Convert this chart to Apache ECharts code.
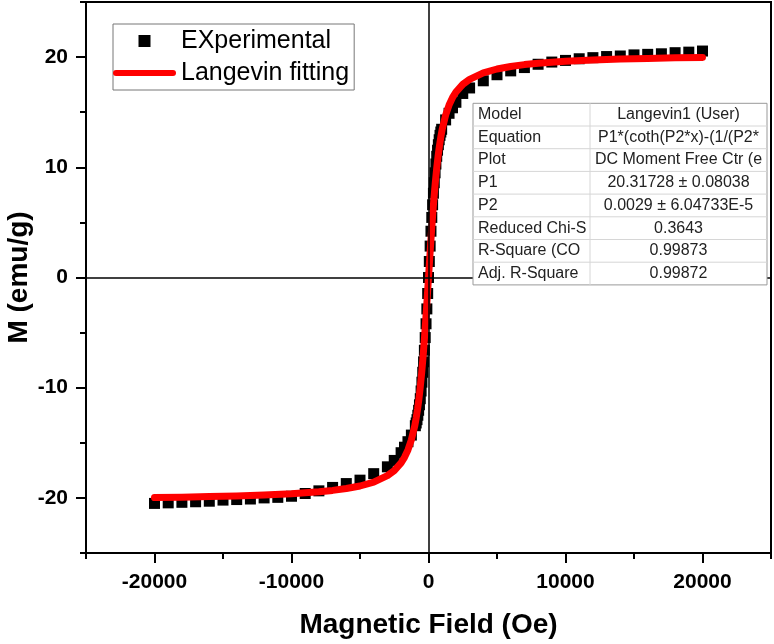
<!DOCTYPE html>
<html>
<head>
<meta charset="utf-8">
<script src="https://cdn.jsdelivr.net/npm/echarts@6/dist/echarts.min.js"></script>
<style>
    html, body { margin: 0; padding: 0; background: #fff; }
    #mh_chart { width: 774px; height: 644px; }
</style>
</head>
<body>
<div id="mh_chart"></div>
<script>
// measured points (Oe, emu/g)
const fieldExp = [
    -20000, -19000, -18000, -17000, -16000, -15000, -14000, -13000, -12000, -11000,
    -10000, -9000, -8000, -7000, -6000, -5000, -4000, -3000, -2500, -2000,
    -1750, -1500, -1250, -960, -900, -840, -780, -720, -660, -600,
    -540, -480, -420, -360, -300, -240, -180, -120, -60, 0,
    60, 120, 180, 240, 300, 360, 420, 480, 540, 600,
    660, 720, 780, 840, 900, 960, 1250, 1500, 1750, 2000,
    2500, 3000, 4000, 5000, 6000, 7000, 8000, 9000, 10000, 11000,
    12000, 13000, 14000, 15000, 16000, 17000, 18000, 19000, 20000
];
const momentExp = [
    -20.5, -20.45, -20.4, -20.35, -20.3, -20.2, -20.15, -20.1, -20.0, -19.95,
    -19.85, -19.6, -19.36, -19.05, -18.7, -18.39, -17.8, -17.18, -16.6, -15.9,
    -15.4, -14.9, -14.3, -13.45, -13.2, -12.9, -12.5, -12.05, -11.55, -11.0,
    -10.3, -9.5, -8.6, -7.65, -6.6, -5.45, -4.2, -2.85, -1.45, 0.0,
    1.45, 2.85, 4.2, 5.45, 6.6, 7.65, 8.6, 9.5, 10.3, 11.0,
    11.55, 12.05, 12.5, 12.9, 13.2, 13.45, 14.3, 14.9, 15.4, 15.9,
    16.7, 17.2, 17.85, 18.4, 18.75, 19.05, 19.35, 19.55, 19.7, 19.85,
    19.95, 20.05, 20.1, 20.2, 20.25, 20.3, 20.4, 20.45, 20.55
];

// Langevin fit curve
const fieldFit = [
    -20000, -18000, -16000, -14000, -12000, -10000, -8000, -7000, -6000, -5000,
    -4000, -3000, -2500, -2000, -1750, -1500, -1250, -1000, -900, -800,
    -700, -600, -500, -400, -300, -200, -100, 0, 100, 200,
    300, 400, 500, 600, 700, 800, 900, 1000, 1250, 1500,
    1750, 2000, 2500, 3000, 4000, 5000, 6000, 7000, 8000, 10000,
    12000, 14000, 16000, 18000, 20000
];
const momentFit = [
    -19.97, -19.93, -19.88, -19.82, -19.73, -19.62, -19.44, -19.32, -19.15, -18.92,
    -18.57, -17.98, -17.52, -16.82, -16.32, -15.65, -14.74, -13.44, -12.75, -11.96,
    -11.02, -9.93, -8.67, -7.23, -5.61, -3.84, -1.95, 0.0, 1.95, 3.84,
    5.61, 7.23, 8.67, 9.93, 11.02, 11.96, 12.75, 13.44, 14.74, 15.65,
    16.32, 16.82, 17.52, 17.98, 18.57, 18.92, 19.15, 19.32, 19.44, 19.62,
    19.73, 19.82, 19.88, 19.93, 19.97
];

const xTicks = [-20000, -10000, 0, 10000, 20000];
const xMinorTicks = [-25000, -15000, -5000, 5000, 15000, 25000];
const yTicks = [-20, -10, 0, 10, 20];
const yMinorTicks = [-25, -15, -5, 5, 15, 25];

const fitTable = [
    ['Model', 'Langevin1 (User)'],
    ['Equation', 'P1*(coth(P2*x)-(1/(P2*'],
    ['Plot', 'DC Moment Free Ctr (e'],
    ['P1', '20.31728 \u00b1 0.08038'],
    ['P2', '0.0029 \u00b1 6.04733E-5'],
    ['Reduced Chi-S', '0.3643'],
    ['R-Square (CO', '0.99873'],
    ['Adj. R-Square', '0.99872']
];

const FONT = '"Liberation Sans", Arial, sans-serif';

let MH = {
    init() {
        this.chart = echarts.init(document.getElementById('mh_chart'));
        this.chart.setOption({
            animation: false,
            backgroundColor: '#fff',
            grid: {
                left: 86, right: 3, top: 2, bottom: 91,
                containLabel: false, outerBoundsMode: 'none',
                show: true, borderColor: '#000', borderWidth: 2
            },
            legend: {
                orient: 'vertical',
                left: 113, top: 24,
                padding: [3, 5, 3, 0],
                itemGap: 4,
                itemWidth: 63, itemHeight: 12,
                borderColor: '#777', borderWidth: 1,
                backgroundColor: '#fff',
                textStyle: { fontSize: 25, fontFamily: FONT, color: '#000', lineHeight: 28 },
                data: [
                    { name: 'EXperimental', icon: 'path://M0 0H10V10H0Z' },
                    { name: 'Langevin fitting', icon: 'path://M3 0H60A3 3 0 0 1 60 6H3A3 3 0 0 1 3 0Z' }
                ]
            },
            xAxis: [{
                type: 'value', position: 'bottom',
                min: -25000, max: 25000,
                name: 'Magnetic Field (Oe)', nameLocation: 'middle', nameGap: 58,
                nameMoveOverlap: false,
                nameTextStyle: { fontSize: 28, fontWeight: 'bold', fontFamily: FONT, color: '#000' },
                axisLine: { onZero: false, lineStyle: { color: '#000', width: 2 } },
                axisTick: { length: 10, lineStyle: { width: 2 }, customValues: xTicks },
                axisLabel: {
                    margin: 19, fontSize: 21, fontWeight: 'bold', fontFamily: FONT, color: '#000',
                    customValues: xTicks, formatter: v => String(v)
                },
                splitLine: { show: false }
            }, {
                type: 'value', position: 'bottom',
                min: -25000, max: 25000,
                axisLine: { show: false, onZero: false },
                axisTick: { length: 6, lineStyle: { width: 2, color: '#000' }, customValues: xMinorTicks },
                axisLabel: { show: false },
                splitLine: { show: false }
            }],
            yAxis: [{
                type: 'value', position: 'left',
                min: -25, max: 25,
                name: 'M (emu/g)', nameLocation: 'middle', nameGap: 53,
                nameMoveOverlap: false,
                nameTextStyle: { fontSize: 28, fontWeight: 'bold', fontFamily: FONT, color: '#000' },
                axisLine: { show: true, onZero: false, lineStyle: { color: '#000', width: 2 } },
                axisTick: { show: true, length: 10, lineStyle: { width: 2 }, customValues: yTicks },
                axisLabel: {
                    margin: 18, fontSize: 21, fontWeight: 'bold', fontFamily: FONT, color: '#000',
                    customValues: yTicks, formatter: v => String(v)
                },
                splitLine: { show: false }
            }, {
                type: 'value', position: 'left',
                min: -25, max: 25,
                axisLine: { show: false, onZero: false },
                axisTick: { show: true, length: 6, lineStyle: { width: 2, color: '#000' }, customValues: yMinorTicks },
                axisLabel: { show: false },
                splitLine: { show: false }
            }],
            series: [{
                name: 'EXperimental',
                type: 'scatter',
                symbol: 'rect',
                symbolSize: 11,
                itemStyle: { color: '#000', opacity: 1 },
                z: 2,
                data: fieldExp.map((x, i) => [x, momentExp[i]]),
                // zero cross lines
                markLine: {
                    silent: true,
                    symbol: 'none',
                    label: { show: false },
                    lineStyle: { color: '#000', width: 1.5, type: 'solid' },
                    data: [{ xAxis: 0 }, { yAxis: 0 }]
                }
            }, {
                name: 'Langevin fitting',
                type: 'line',
                showSymbol: false,
                symbol: 'none',
                z: 3,
                lineStyle: { color: '#f00', width: 7, cap: 'round', join: 'round' },
                itemStyle: { color: '#f00' },
                data: fieldFit.map((x, i) => [x, momentFit[i]])
            }],
            graphic: this.tableGraphic()
        });
    },
    // Origin style parameter table
    tableGraphic() {
        const x0 = 473, y0 = 103.3, w1 = 117, w2 = 177, rh = 22.7;
        const Z = 100;
        let children = [{
            type: 'rect', z: Z,
            shape: { x: 0, y: 0, width: w1 + w2, height: rh * fitTable.length },
            style: { fill: '#fff', stroke: '#999', lineWidth: 1 }
        }];
        fitTable.forEach((row, i) => {
            if (i > 0) {
                children.push({
                    type: 'line', z: Z + 1,
                    shape: { x1: 0, y1: rh * i, x2: w1 + w2, y2: rh * i },
                    style: { stroke: '#d6d6d6', lineWidth: 1 }
                });
            }
            children.push({
                type: 'text', z: Z + 2,
                x: 5, y: rh * i + rh / 2,
                style: { text: row[0], font: '16px ' + FONT, fill: '#222', verticalAlign: 'middle', align: 'left' }
            });
            children.push({
                type: 'text', z: Z + 2,
                x: w1 + w2 / 2, y: rh * i + rh / 2,
                style: { text: row[1], font: '16px ' + FONT, fill: '#222', verticalAlign: 'middle', align: 'center' }
            });
        });
        children.push({
            type: 'line', z: Z + 1,
            shape: { x1: w1, y1: 0, x2: w1, y2: rh * fitTable.length },
            style: { stroke: '#d6d6d6', lineWidth: 1 }
        });
        return [{ type: 'group', x: x0, y: y0, z: Z, children: children }];
    }
};
MH.init();
</script>
</body>
</html>
